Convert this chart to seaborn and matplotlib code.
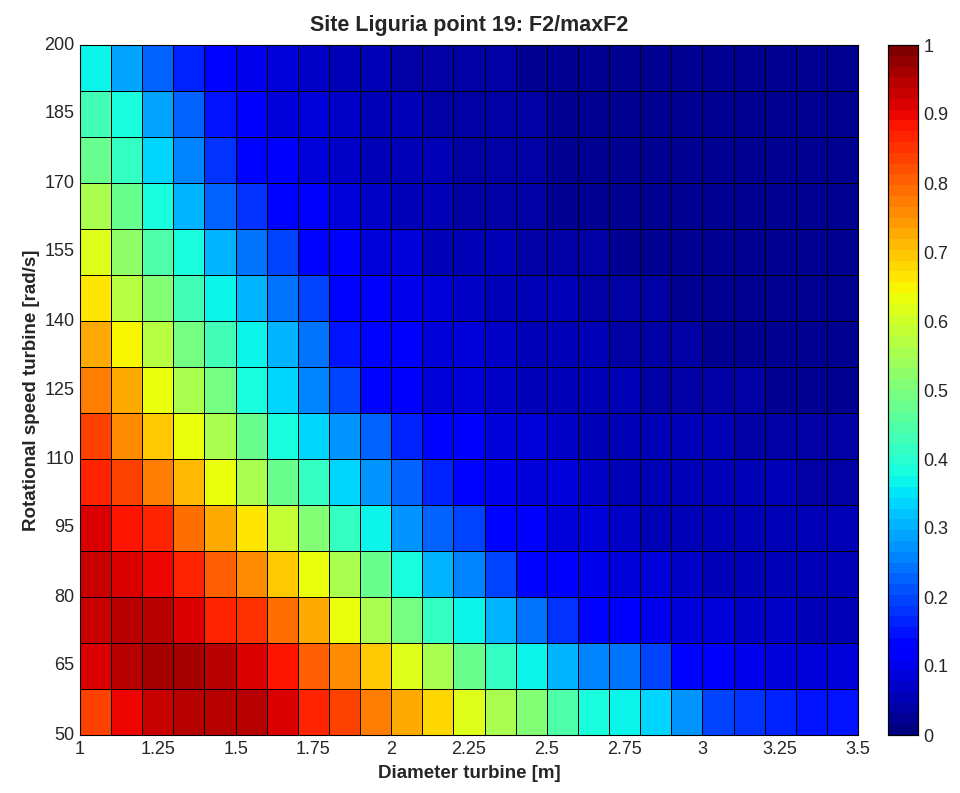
import numpy as np
import pandas as pd
import matplotlib
matplotlib.use("Agg")
import matplotlib.pyplot as plt
import seaborn as sns

# Diameter (m) lower cell edges and rotational speed (rad/s) lower cell edges
diameter = [round(1.0 + 0.1 * i, 1) for i in range(25)]
speed = [50, 60, 70, 80, 90, 100, 110, 120, 130, 140, 150, 160, 170, 180, 190]

# F2/maxF2 values, one list per speed row (bottom -> top), 25 diameters each
r050 = [0.83, 0.90, 0.93, 0.94, 0.95, 0.94, 0.91, 0.87, 0.83, 0.78, 0.73, 0.68, 0.62, 0.55, 0.50, 0.45, 0.38, 0.36, 0.33, 0.28, 0.20, 0.18, 0.16, 0.15, 0.15]
r060 = [0.92, 0.95, 0.96, 0.96, 0.94, 0.92, 0.88, 0.81, 0.75, 0.69, 0.62, 0.55, 0.48, 0.42, 0.37, 0.30, 0.25, 0.24, 0.19, 0.13, 0.11, 0.10, 0.09, 0.085, 0.08]
r070 = [0.93, 0.95, 0.95, 0.92, 0.87, 0.85, 0.79, 0.72, 0.63, 0.56, 0.49, 0.42, 0.37, 0.30, 0.24, 0.18, 0.13, 0.12, 0.10, 0.09, 0.08, 0.07, 0.065, 0.06, 0.06]
r080 = [0.93, 0.92, 0.90, 0.86, 0.80, 0.75, 0.69, 0.63, 0.55, 0.47, 0.38, 0.31, 0.26, 0.20, 0.14, 0.12, 0.10, 0.09, 0.08, 0.07, 0.06, 0.06, 0.05, 0.05, 0.05]
r090 = [0.91, 0.88, 0.86, 0.79, 0.72, 0.66, 0.58, 0.50, 0.42, 0.37, 0.28, 0.22, 0.20, 0.14, 0.11, 0.09, 0.08, 0.07, 0.06, 0.06, 0.05, 0.05, 0.05, 0.05, 0.05]
r100 = [0.86, 0.83, 0.78, 0.71, 0.63, 0.56, 0.48, 0.42, 0.34, 0.28, 0.22, 0.16, 0.14, 0.10, 0.09, 0.08, 0.07, 0.06, 0.06, 0.05, 0.05, 0.05, 0.05, 0.04, 0.04]
r110 = [0.83, 0.76, 0.70, 0.63, 0.55, 0.48, 0.38, 0.33, 0.27, 0.22, 0.16, 0.13, 0.12, 0.09, 0.08, 0.07, 0.06, 0.06, 0.05, 0.05, 0.05, 0.04, 0.04, 0.04, 0.04]
r120 = [0.78, 0.72, 0.64, 0.56, 0.49, 0.39, 0.33, 0.25, 0.20, 0.13, 0.11, 0.08, 0.08, 0.07, 0.06, 0.06, 0.05, 0.05, 0.04, 0.04, 0.04, 0.04, 0.03, 0.03, 0.03]
r130 = [0.72, 0.65, 0.57, 0.49, 0.43, 0.37, 0.31, 0.24, 0.15, 0.13, 0.11, 0.09, 0.08, 0.07, 0.06, 0.05, 0.05, 0.04, 0.04, 0.04, 0.03, 0.03, 0.03, 0.03, 0.03]
r140 = [0.67, 0.57, 0.50, 0.43, 0.37, 0.30, 0.24, 0.19, 0.14, 0.12, 0.10, 0.08, 0.07, 0.06, 0.05, 0.05, 0.04, 0.04, 0.04, 0.03, 0.03, 0.03, 0.03, 0.03, 0.03]
r150 = [0.62, 0.53, 0.44, 0.38, 0.30, 0.24, 0.19, 0.14, 0.11, 0.09, 0.08, 0.06, 0.05, 0.05, 0.04, 0.04, 0.04, 0.03, 0.03, 0.03, 0.03, 0.03, 0.02, 0.02, 0.02]
r160 = [0.55, 0.47, 0.38, 0.30, 0.23, 0.18, 0.14, 0.11, 0.09, 0.07, 0.06, 0.05, 0.045, 0.04, 0.04, 0.03, 0.03, 0.03, 0.03, 0.03, 0.02, 0.02, 0.02, 0.02, 0.02]
r170 = [0.48, 0.42, 0.34, 0.25, 0.18, 0.14, 0.11, 0.09, 0.07, 0.06, 0.05, 0.05, 0.04, 0.04, 0.035, 0.03, 0.03, 0.03, 0.03, 0.02, 0.02, 0.02, 0.02, 0.02, 0.02]
r180 = [0.43, 0.38, 0.29, 0.22, 0.15, 0.12, 0.09, 0.08, 0.07, 0.06, 0.05, 0.045, 0.04, 0.04, 0.035, 0.03, 0.03, 0.03, 0.025, 0.02, 0.02, 0.02, 0.02, 0.02, 0.02]
r190 = [0.37, 0.29, 0.23, 0.17, 0.13, 0.10, 0.08, 0.07, 0.06, 0.05, 0.045, 0.04, 0.04, 0.035, 0.03, 0.03, 0.03, 0.025, 0.025, 0.02, 0.02, 0.02, 0.02, 0.02, 0.02]

rows = [r050, r060, r070, r080, r090, r100, r110, r120, r130, r140, r150, r160, r170, r180, r190]

x_ticks = [1, 1.25, 1.5, 1.75, 2, 2.25, 2.5, 2.75, 3, 3.25, 3.5]
x_tick_labels = ["1", "1.25", "1.5", "1.75", "2", "2.25", "2.5", "2.75", "3", "3.25", "3.5"]
y_ticks = [50, 65, 80, 95, 110, 125, 140, 155, 170, 185, 200]
cbar_ticks = [0, 0.1, 0.2, 0.3, 0.4, 0.5, 0.6, 0.7, 0.8, 0.9, 1]
cbar_tick_labels = ["0", "0.1", "0.2", "0.3", "0.4", "0.5", "0.6", "0.7", "0.8", "0.9", "1"]

df = pd.DataFrame(rows, index=speed, columns=diameter)

sns.set_style("white")
plt.rcParams["font.family"] = ["Liberation Sans", "DejaVu Sans"]

W, H = 960, 793
fig = plt.figure(figsize=(W / 100, H / 100), dpi=100)
ax = fig.add_axes([80 / W, 1 - 735 / H, (858 - 80) / W, (735 - 45) / H])
cax = fig.add_axes([888 / W, 1 - 735 / H, 30 / W, (735 - 45) / H])

cmap = plt.get_cmap("jet", 64)
sns.heatmap(df, ax=ax, cbar_ax=cax, cmap=cmap, vmin=0, vmax=1,
            linewidths=0.6, linecolor="black", square=False)

# heatmap uses index positions; restore numeric orientation (low speed at bottom)
ax.set_ylim(0, len(speed))
ax.set_xlim(0, len(diameter))

x0, dx = diameter[0], 0.1
y0, dy = speed[0], 10
ax.set_xticks([(v - x0) / dx for v in x_ticks])
ax.set_xticklabels(x_tick_labels, rotation=0, fontsize=13)
ax.set_yticks([(v - y0) / dy for v in y_ticks])
ax.set_yticklabels([str(v) for v in y_ticks], rotation=0, fontsize=13)
ax.tick_params(axis="both", direction="in", length=4, width=0.6, top=True, right=True,
               pad=4, color="black")

for s in ax.spines.values():
    s.set_visible(True)
    s.set_color("black")
    s.set_linewidth(0.8)

ax.set_xlabel("Diameter turbine [m]", fontsize=13.5, fontweight="bold", labelpad=5)
ax.set_ylabel("Rotational speed turbine [rad/s]", fontsize=13.5, fontweight="bold", labelpad=3)
ax.set_title("Site Liguria point 19: F2/maxF2", fontsize=15.5, fontweight="bold", pad=10)

cax.set_yticks(cbar_ticks)
cax.set_yticklabels(cbar_tick_labels, fontsize=13)
cax.tick_params(axis="y", direction="in", length=4, width=0.6, left=True, right=True, pad=4)
for s in cax.spines.values():
    s.set_visible(True)
    s.set_color("black")
    s.set_linewidth(0.8)

fig.savefig("out.png", dpi=100, facecolor="white")
